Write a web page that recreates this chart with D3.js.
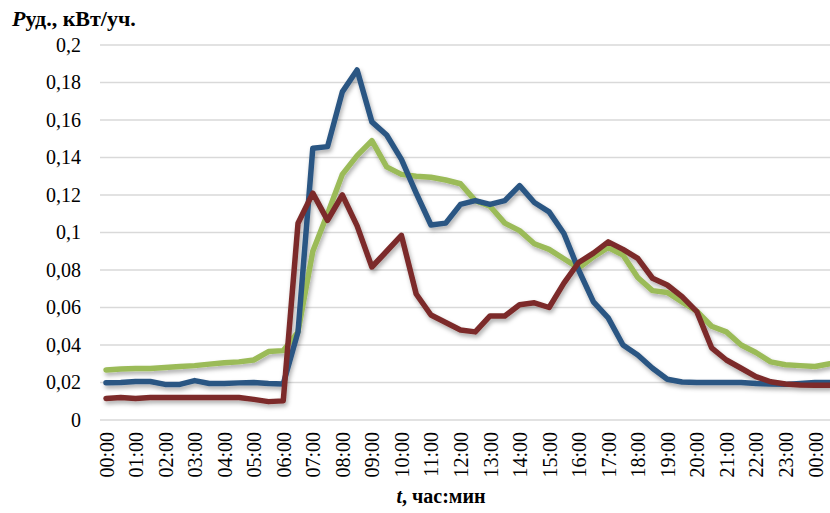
<!DOCTYPE html>
<html>
<head>
<meta charset="utf-8">
<script src="https://cdn.jsdelivr.net/npm/d3@7"></script>
<style>
  html, body { margin: 0; padding: 0; background: #fff; }
  svg { display: block; }
  text { font-family: "Liberation Serif", "Times New Roman", serif; fill: #000; }
</style>
</head>
<body>
<svg id="chart" width="830" height="513"></svg>
<script>
// Half-hour time slots (the last two run past midnight)
const times = [
  "00:00","00:30","01:00","01:30","02:00","02:30","03:00","03:30","04:00","04:30",
  "05:00","05:30","06:00","06:30","07:00","07:30","08:00","08:30","09:00","09:30",
  "10:00","10:30","11:00","11:30","12:00","12:30","13:00","13:30","14:00","14:30",
  "15:00","15:30","16:00","16:30","17:00","17:30","18:00","18:30","19:00","19:30",
  "20:00","20:30","21:00","21:30","22:00","22:30","23:00","23:30","00:00","00:30"
];

// Specific power per household, kW
const greenSeries = [
  0.0267,0.0272,0.0275,0.0275,0.0280,0.0285,0.0290,0.0298,0.0305,0.0310,
  0.0320,0.0365,0.0370,0.0470,0.0900,0.1100,0.1310,0.1410,0.1490,0.1350,
  0.1310,0.1300,0.1295,0.1280,0.1260,0.1170,0.1140,0.1050,0.1010,0.0940,
  0.0910,0.0860,0.0810,0.0870,0.0920,0.0880,0.0760,0.0690,0.0680,0.0630,
  0.0580,0.0500,0.0470,0.0400,0.0360,0.0310,0.0295,0.0290,0.0285,0.0300
];
const blueSeries = [
  0.0199,0.0200,0.0205,0.0205,0.0190,0.0190,0.0210,0.0195,0.0195,0.0198,
  0.0200,0.0195,0.0192,0.0470,0.1449,0.1458,0.1750,0.1867,0.1590,0.1520,
  0.1390,0.1210,0.1040,0.1050,0.1150,0.1170,0.1150,0.1170,0.1250,0.1160,
  0.1110,0.0995,0.0800,0.0630,0.0545,0.0400,0.0347,0.0276,0.0217,0.0203,
  0.0200,0.0200,0.0200,0.0200,0.0195,0.0192,0.0190,0.0195,0.0200,0.0200
];
const redSeries = [
  0.0115,0.0120,0.0115,0.0120,0.0120,0.0120,0.0120,0.0120,0.0120,0.0120,
  0.0110,0.0098,0.0102,0.1049,0.1210,0.1065,0.1200,0.1035,0.0816,0.0900,
  0.0985,0.0672,0.0560,0.0520,0.0480,0.0470,0.0555,0.0555,0.0615,0.0625,
  0.0600,0.0730,0.0840,0.0890,0.0950,0.0910,0.0862,0.0756,0.0720,0.0658,
  0.0578,0.0385,0.0320,0.0276,0.0231,0.0204,0.0192,0.0187,0.0185,0.0185
];

const yTicks = [0, 0.02, 0.04, 0.06, 0.08, 0.1, 0.12, 0.14, 0.16, 0.18, 0.2];
const hourTicks = d3.range(0, 49, 2);

const series = [
  { values: greenSeries, color: "#9bbb59" },
  { values: blueSeries,  color: "#2c5683" },
  { values: redSeries,   color: "#7b2b29" }
];

const svg = d3.select("#chart");

const x = d3.scaleLinear().domain([0, 48]).range([106, 815]);
const y = d3.scaleLinear().domain([0, 0.2]).range([420, 45]);

// soft outer shadow under the lines
const defs = svg.append("defs");
const f = defs.append("filter").attr("id", "shadow")
  .attr("x", "-10%").attr("y", "-10%").attr("width", "120%").attr("height", "130%");
f.append("feDropShadow").attr("dx", 1.5).attr("dy", 3).attr("stdDeviation", 2.2)
  .attr("flood-color", "#000").attr("flood-opacity", 0.32);

// horizontal grid
svg.append("g")
  .selectAll("line").data(yTicks).join("line")
  .attr("x1", 100).attr("x2", 830)
  .attr("y1", d => y(d)).attr("y2", d => y(d))
  .attr("stroke", "#d9d9d9").attr("stroke-width", 1.5);

// y axis labels
const fmt = d => d === 0 ? "0" : String(+d.toFixed(2)).replace(".", ",");
const yAxis = svg.append("g").attr("transform", "translate(81,0)")
  .call(d3.axisLeft(y).tickValues(yTicks).tickFormat(fmt).tickSize(0).tickPadding(0));
yAxis.select(".domain").remove();
yAxis.selectAll("text").attr("font-size", 20)
  .attr("font-family", "Liberation Serif, Times New Roman, serif").attr("fill", "#000");

// x axis labels, rotated
const xAxis = svg.append("g").attr("transform", "translate(0,420)")
  .call(d3.axisBottom(x).tickValues(hourTicks).tickFormat(i => times[i]).tickSize(0));
xAxis.select(".domain").remove();
xAxis.selectAll("text")
  .attr("font-size", 20)
  .attr("font-family", "Liberation Serif, Times New Roman, serif").attr("fill", "#000")
  .attr("text-anchor", "end")
  .attr("transform", "rotate(-90)")
  .attr("x", -12).attr("y", 0).attr("dy", "0.35em");

// lines
const line = d3.line().x((d, i) => x(i)).y(d => y(d));
svg.append("g").attr("filter", "url(#shadow)")
  .selectAll("path").data(series).join("path")
  .attr("d", s => line(s.values))
  .attr("fill", "none")
  .attr("stroke", s => s.color)
  .attr("stroke-width", 5.5)
  .attr("stroke-linejoin", "round")
  .attr("stroke-linecap", "round");

// axis titles
const yt = svg.append("text").attr("x", 12).attr("y", 26)
  .attr("font-size", 22).attr("font-weight", "bold");
yt.append("tspan").attr("font-style", "italic").text("P");
yt.append("tspan").text("уд., кВт/уч.");

const xt = svg.append("text").attr("x", 441).attr("y", 503)
  .attr("text-anchor", "middle").attr("font-size", 20).attr("font-weight", "bold");
xt.append("tspan").attr("font-style", "italic").text("t");
xt.append("tspan").text(", час:мин");
</script>
</body>
</html>
